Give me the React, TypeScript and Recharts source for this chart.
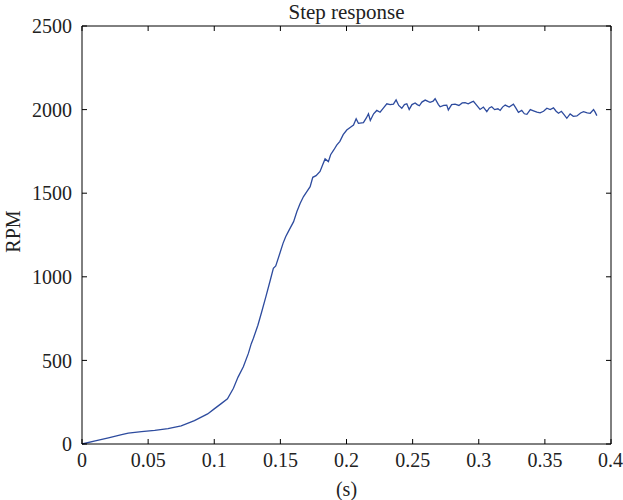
import React from 'react';
import { LineChart, Line, XAxis, YAxis } from 'recharts';

const times = [
  0, 0.01, 0.02, 0.03, 0.035, 0.045, 0.055, 0.065, 0.075, 0.085, 0.095, 0.1, 0.105, 0.11,
  0.1145, 0.118, 0.122, 0.1258, 0.128, 0.1296, 0.133, 0.1359, 0.139, 0.1422, 0.1447, 0.1465,
  0.1498, 0.152, 0.154, 0.156, 0.158, 0.16, 0.1625, 0.165, 0.1675, 0.17, 0.1725, 0.1745, 0.177,
  0.18, 0.182, 0.1838, 0.1863, 0.188, 0.1905, 0.1926, 0.195, 0.1975, 0.2002, 0.203, 0.2053,
  0.2073, 0.209, 0.2128, 0.215, 0.2166, 0.218, 0.2205, 0.2229, 0.2254, 0.228, 0.2305, 0.233,
  0.2355, 0.2375, 0.2395, 0.2418, 0.2438, 0.2456, 0.2474, 0.2495, 0.2519, 0.2535, 0.2551, 0.257,
  0.2595, 0.262, 0.2632, 0.2655, 0.267, 0.2695, 0.2708, 0.2735, 0.2758, 0.277, 0.2795, 0.2821,
  0.285, 0.2875, 0.2897, 0.292, 0.2945, 0.296, 0.2985, 0.301, 0.3035, 0.3061, 0.308, 0.3098,
  0.312, 0.3145, 0.3162, 0.318, 0.32, 0.323, 0.3262, 0.328, 0.33, 0.3325, 0.3345, 0.3364, 0.339,
  0.3414, 0.344, 0.3464, 0.349, 0.3515, 0.354, 0.3565, 0.3585, 0.3603, 0.3625, 0.3645, 0.3666,
  0.3691, 0.3715, 0.3742, 0.377, 0.3792, 0.382, 0.3843, 0.3868, 0.388, 0.3893,
];

const rpm = [
  0, 18, 37, 56, 65, 74, 82, 92, 108, 140, 180, 210, 240, 270,
  333, 400, 462, 542, 600, 632, 710, 791, 880, 975, 1051, 1065,
  1145, 1200, 1240, 1270, 1300, 1330, 1390, 1440, 1480, 1510, 1539, 1595, 1605,
  1630, 1670, 1705, 1689, 1730, 1760, 1788, 1810, 1850, 1878, 1895, 1908,
  1945, 1918, 1922, 1950, 1975, 1935, 1975, 1995, 1984, 2010, 2035, 2030,
  2033, 2058, 2025, 2008, 2030, 2035, 2001, 2030, 2040, 2030, 2023, 2045,
  2057, 2048, 2044, 2050, 2065, 2030, 2017, 2025, 2027, 1998, 2030, 2033,
  2025, 2040, 2041, 2035, 2045, 2050, 2025, 2001, 2015, 1988, 2010, 2017,
  2000, 2005, 1995, 2015, 2027, 2015, 2032, 2010, 1984, 1995, 1975, 1972, 2000,
  1993, 1985, 1981, 1990, 2008, 2000, 2010, 1990, 1978, 1990, 1970, 1948,
  1974, 1960, 1962, 1980, 1988, 1980, 1978, 2000, 1985, 1964,
];

const xTicks = [0, 0.05, 0.1, 0.15, 0.2, 0.25, 0.3, 0.35, 0.4];
const yTicks = [0, 500, 1000, 1500, 2000, 2500];

const data = times.map((t, i) => ({ t, rpm: rpm[i] }));

const font = '"Liberation Serif", "DejaVu Serif", serif';
const tickStyle = { fontFamily: font, fontSize: 20, fill: '#222' };

const App = () => {
  return (
    <div style={{ position: 'absolute', left: 0, top: 0, width: 623, height: 500, background: '#fff' }}>
      <LineChart width={623} height={500} data={data} margin={{ top: 25, right: 11, bottom: 26, left: 12 }}>
        <XAxis
          dataKey='t'
          type='number'
          domain={[0, 0.4]}
          ticks={xTicks}
          tickSize={-5}
          tickMargin={14}
          height={30}
          stroke='#000'
          tick={tickStyle}
          tickFormatter={(v) => String(v)}
        />
        <XAxis xAxisId='top' orientation='top' dataKey='t' type='number' domain={[0, 0.4]} ticks={xTicks}
          tickSize={-5} height={1} stroke='#000' tickFormatter={() => ''} />
        <YAxis
          type='number'
          domain={[0, 2500]}
          ticks={yTicks}
          tickSize={-5}
          tickMargin={15}
          width={70}
          stroke='#000'
          tick={tickStyle}
        />
        <YAxis yAxisId='right' orientation='right' type='number' domain={[0, 2500]} ticks={yTicks}
          tickSize={-5} width={1} stroke='#000' tickFormatter={() => ''} />
        <Line xAxisId='top' yAxisId='right' type='linear' dataKey='rpm' stroke='none' dot={false} isAnimationActive={false} />
        <Line type='linear' dataKey='rpm' stroke='#2d4b9e' strokeWidth={1.3} dot={false} isAnimationActive={false} />
      </LineChart>
      <div style={{ position: 'absolute', left: 82, width: 529, top: 0, textAlign: 'center', fontFamily: font, fontSize: 21, color: '#222' }}>
        Step response
      </div>
      <div style={{ position: 'absolute', left: 82, width: 529, top: 478, textAlign: 'center', fontFamily: font, fontSize: 20, color: '#222' }}>
        (s)
      </div>
      <div style={{ position: 'absolute', left: -17, top: 220, width: 60, textAlign: 'center', fontFamily: font, fontSize: 20, color: '#222', transform: 'rotate(-90deg)' }}>
        RPM
      </div>
    </div>
  );
};

export default App;
